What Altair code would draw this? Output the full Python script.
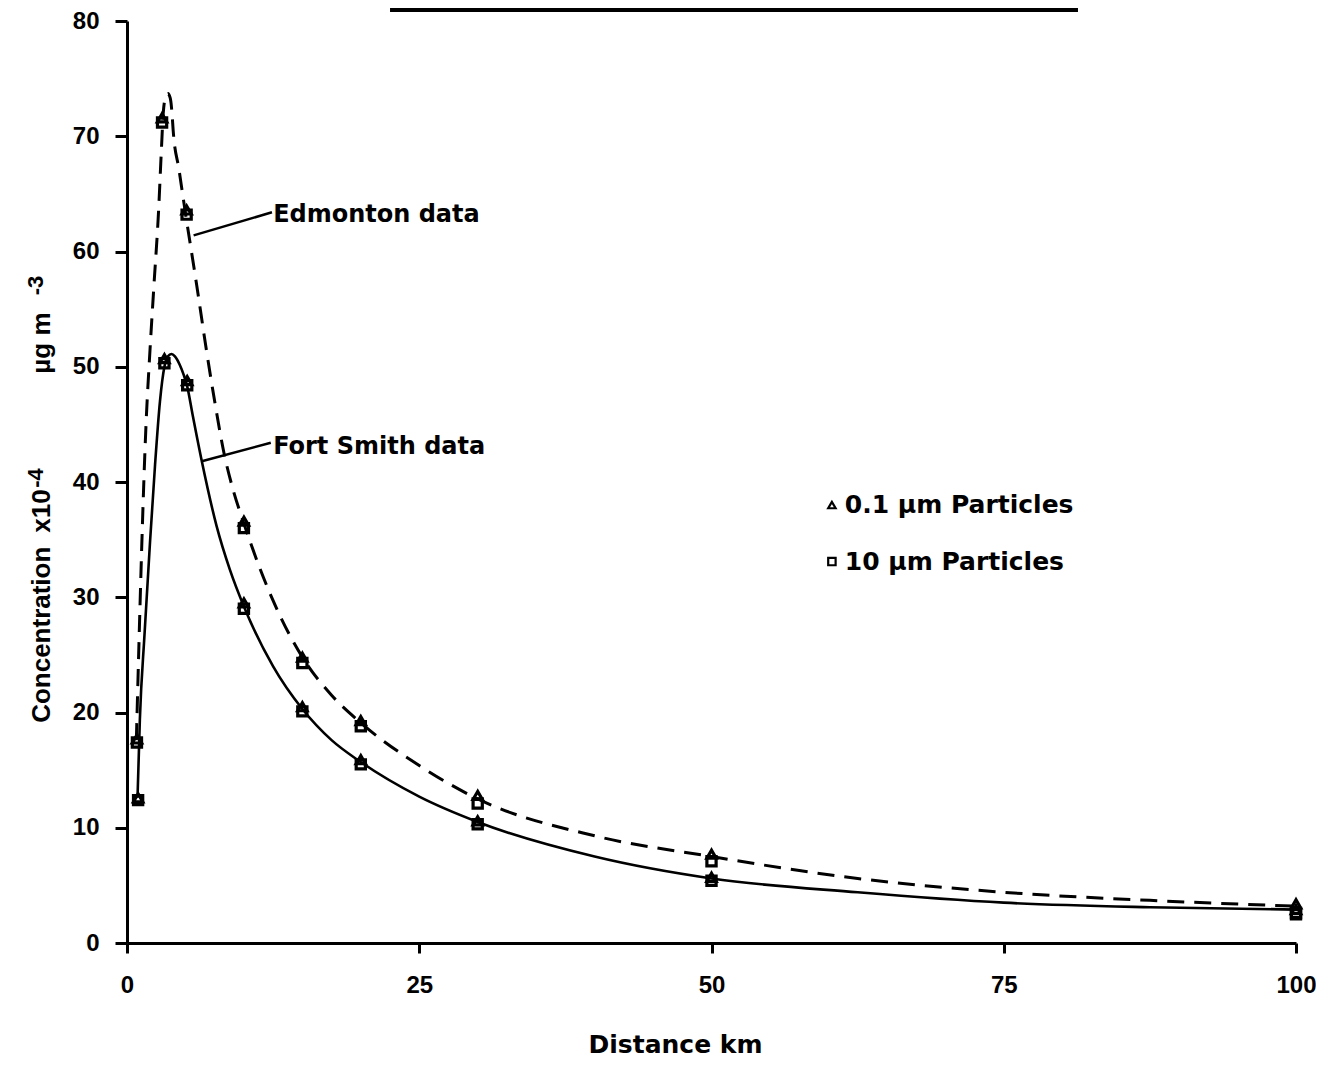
import altair as alt
import pandas as pd

# ---------------- data ----------------
# Edmonton fitted curve (dashed)
edm_curve_x = [0.8, 1.65, 1.97, 2.3, 2.7, 2.95, 3.1, 3.3, 3.5, 3.7, 3.85, 3.95, 4.45, 4.96, 5.96,
               6.8, 7.5, 8.3, 9.0, 10, 12.5, 15, 17.5, 20, 25, 30, 40, 50, 62.5, 75, 87.5, 100]
edm_curve_y = [17.6, 45.5, 51.5, 57.0, 63.5, 69.0, 72.0, 73.4, 73.7, 73.3, 72.0, 70.5, 67.1, 63.6, 57.1,
               51.4, 47.0, 42.5, 39.6, 36.4, 29.7, 24.8, 21.5, 19.1, 15.4, 12.5, 9.3, 7.5, 5.6, 4.4, 3.7, 3.2]

# Fort Smith fitted curve (solid)
fs_curve_x = [0.9, 1.1, 1.5, 1.97, 2.4, 2.82, 3.2, 3.5, 3.8, 4.1, 4.5, 4.85, 5.15, 5.6, 6.4, 7.66,
              8.8, 10, 12.5, 15, 17.5, 20, 25, 30, 40, 50, 62.5, 75, 87.5, 100]
fs_curve_y = [12.6, 19.4, 26.8, 34.8, 41.5, 47.0, 50.0, 50.9, 51.1, 50.9, 50.2, 49.3, 48.3, 45.9, 41.8, 36.2,
              32.4, 29.2, 24.0, 20.3, 17.6, 15.7, 12.7, 10.5, 7.5, 5.6, 4.4, 3.5, 3.1, 2.9]

# measured points
edm_x = [0.85, 3.0, 5.1, 10, 15, 20, 30, 50, 100]
edm_tri = [17.7, 71.6, 63.6, 36.6, 24.8, 19.3, 12.8, 7.7, 3.4]
edm_sq = [17.4, 71.2, 63.2, 36.0, 24.3, 18.8, 12.1, 7.1, 2.6]
fs_x = [0.95, 3.2, 5.15, 10, 15, 20, 30, 50, 100]
fs_tri = [12.6, 50.7, 48.8, 29.5, 20.5, 15.9, 10.6, 5.7, 2.9]
fs_sq = [12.4, 50.3, 48.4, 29.0, 20.1, 15.5, 10.3, 5.4, 2.5]

# annotations
label_texts = ["Edmonton data", "Fort  Smith data"]
label_x = [12.5, 12.5]
label_y = [63.2, 43.0]
leader_x = [5.7, 6.4]
leader_x2 = [12.4, 12.3]
leader_y = [61.4, 41.8]
leader_y2 = [63.4, 43.4]

legend_texts = ["0.1  \u00b5m  Particles", "10   \u00b5m  Particles"]
legend_shapes = ["tri", "sq"]
legend_mx = [60.3, 60.3]
legend_tx = [61.4, 61.4]
legend_y = [38.0, 33.1]

# y-axis title, written in pieces so the exponents can be raised
ytitle_main = ["Concentration", "x10", "\u00b5g  m"]
ytitle_main_x = [-6.6, -6.6, -6.6]
ytitle_main_y = [19.1, 35.6, 49.4]
ytitle_sup = ["-4", "-3"]
ytitle_sup_x = [-7.15, -7.15]
ytitle_sup_y = [39.5, 56.2]

x_ticks = [0, 25, 50, 75, 100]
y_ticks = [0, 10, 20, 30, 40, 50, 60, 70, 80]

# scan artefact line at the top of the page
top_line_x = [22.5]
top_line_x2 = [81.35]
top_line_y = [80.95]

# ---------------- tables ----------------
curves = pd.DataFrame({"x": edm_curve_x, "y": edm_curve_y})
curves_fs = pd.DataFrame({"x": fs_curve_x, "y": fs_curve_y})

pts = pd.concat([
    pd.DataFrame({"x": edm_x, "y": edm_sq, "shape": "sq"}),
    pd.DataFrame({"x": fs_x, "y": fs_sq, "shape": "sq"}),
    pd.DataFrame({"x": edm_x, "y": edm_tri, "shape": "tri"}),
    pd.DataFrame({"x": fs_x, "y": fs_tri, "shape": "tri"}),
], ignore_index=True)

labels = pd.DataFrame({"x": label_x, "y": label_y, "t": label_texts})
leaders = pd.DataFrame({"x": leader_x, "x2": leader_x2, "y": leader_y, "y2": leader_y2})
legend_pts = pd.DataFrame({"x": legend_mx, "y": legend_y, "shape": legend_shapes})
legend_txt = pd.DataFrame({"x": legend_tx, "y": legend_y, "t": legend_texts})
topline = pd.DataFrame({"x": top_line_x, "x2": top_line_x2, "y": top_line_y})
yt_main = pd.DataFrame({"x": ytitle_main_x, "y": ytitle_main_y, "t": ytitle_main})
yt_sup = pd.DataFrame({"x": ytitle_sup_x, "y": ytitle_sup_y, "t": ytitle_sup})

# ---------------- scales / axes ----------------
xs = alt.Scale(domain=[0, 100], nice=False, zero=False)
ys = alt.Scale(domain=[0, 80], nice=False, zero=False)

x_axis = alt.Axis(
    values=x_ticks, format="d", grid=False,
    domainColor="black", domainWidth=3, tickColor="black", tickWidth=3, tickSize=10,
    labelFont="Liberation Sans", labelFontWeight="bold", labelFontSize=24, labelColor="black",
    labelPadding=20, labelFlush=False,
    title="Distance  km", titleFont="DejaVu Sans", titleFontWeight="bold", titleFontSize=25,
    titleColor="black", titleX=548, titleY=109, titleBaseline="alphabetic",
)
y_axis = alt.Axis(
    values=y_ticks, format="d", grid=False,
    domainColor="black", domainWidth=3, tickColor="black", tickWidth=3, tickSize=12,
    labelFont="Liberation Sans", labelFontWeight="bold", labelFontSize=24, labelColor="black",
    labelPadding=16, labelFlush=False, title="",
)

X = alt.X("x:Q", scale=xs, axis=x_axis)
Y = alt.Y("y:Q", scale=ys, axis=y_axis)

shape_scale = alt.Scale(domain=["tri", "sq"], range=["triangle-up", "square"])

edm_line = alt.Chart(curves).mark_line(
    color="black", strokeWidth=3, strokeDash=[17, 10], interpolate="monotone"
).encode(x=X, y=Y)

fs_line = alt.Chart(curves_fs).mark_line(
    color="black", strokeWidth=2.6, interpolate="monotone"
).encode(x=X, y=Y)

markers = alt.Chart(pts).mark_point(
    filled=False, color="black", strokeWidth=3.2, size=85, opacity=1
).encode(x=X, y=Y, shape=alt.Shape("shape:N", scale=shape_scale, legend=None))

leader_rules = alt.Chart(leaders).mark_rule(color="black", strokeWidth=2.5).encode(
    x=X, x2="x2:Q", y=Y, y2="y2:Q"
)

label_text = alt.Chart(labels).mark_text(
    font="DejaVu Sans", fontWeight="bold", fontSize=24, align="left", baseline="middle", color="black"
).encode(x=X, y=Y, text="t:N")

leg_marks = alt.Chart(legend_pts).mark_point(
    filled=False, color="black", strokeWidth=2.2, size=55, opacity=1
).encode(x=X, y=Y, shape=alt.Shape("shape:N", scale=shape_scale, legend=None))

leg_text = alt.Chart(legend_txt).mark_text(
    font="DejaVu Sans", fontWeight="bold", fontSize=25, align="left", baseline="middle", color="black"
).encode(x=X, y=Y, text="t:N")

ytitle_main_marks = alt.Chart(yt_main).mark_text(
    font="Liberation Sans", fontWeight="bold", fontSize=26, angle=270,
    align="left", baseline="alphabetic", color="black"
).encode(x=X, y=Y, text="t:N")

ytitle_sup_marks = alt.Chart(yt_sup).mark_text(
    font="Liberation Sans", fontWeight="bold", fontSize=22, angle=270,
    align="left", baseline="alphabetic", color="black"
).encode(x=X, y=Y, text="t:N")

top_rule = alt.Chart(topline).mark_rule(color="black", strokeWidth=4).encode(
    x=X, x2="x2:Q", y=Y
)

chart = alt.layer(
    top_rule, edm_line, fs_line, markers, leader_rules, label_text, leg_marks, leg_text,
    ytitle_main_marks, ytitle_sup_marks
).properties(
    width=1169, height=922,
    autosize=alt.AutoSizeParams(type="none"),
    padding={"left": 119, "top": 13, "right": 20, "bottom": 115},
    background="white",
).configure_view(stroke=None)

chart.save("out.html", embed_options={"renderer": "svg", "actions": False})
